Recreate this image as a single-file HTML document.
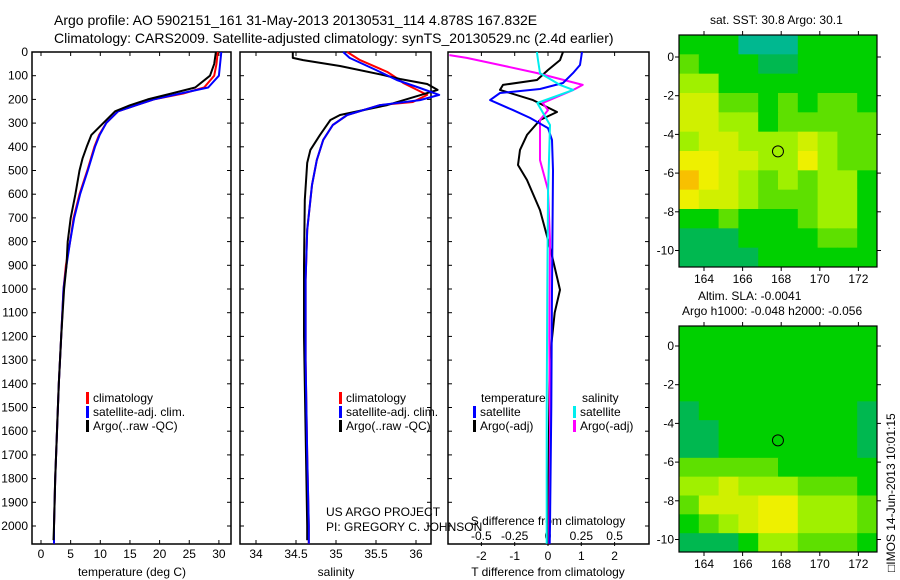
<!DOCTYPE html>
<html><head><meta charset="utf-8"><style>
body{margin:0;background:#fff}
svg{display:block;font-family:"Liberation Sans",sans-serif}
text{fill:#000}
</style></head><body>
<svg id="s" width="900" height="580" viewBox="0 0 900 580">
<text x="54" y="25" font-size="14">Argo profile: AO 5902151_161 31-May-2013 20130531_114 4.878S 167.832E</text>
<text x="54" y="43" font-size="14">Climatology: CARS2009. Satellite-adjusted climatology: synTS_20130529.nc (2.4d earlier)</text>
<g id="g"></g>
<text x="326" y="516" font-size="12">US ARGO PROJECT</text>
<text x="326" y="531" font-size="12">PI: GREGORY C. JOHNSON</text>
<text x="710" y="24" font-size="12">sat. SST: 30.8 Argo: 30.1</text>
<text x="698" y="300" font-size="12">Altim. SLA: -0.0041</text>
<text x="682" y="315" font-size="12">Argo h1000: -0.048 h2000: -0.056</text>
<text transform="translate(895,572) rotate(-90)" font-size="12">□IMOS 14-Jun-2013 10:01:15</text>
</svg>
<script>
// ---- data ----
const tArgoD=[0,50,100,150,175,200,225,250,300,350,400,450,500,600,700,800,900,1000,1200,1400,1600,1800,2000,2060];
const tArgoV=[29.5,29.2,28.5,26,22,18,15,12.5,10.5,8.5,7.7,7,6.5,5.8,5,4.5,4.3,3.9,3.4,3,2.7,2.4,2.2,2.1];
const tClimD=[0,50,100,150,175,200,225,250,300,350,400,500,600,700,800,900,1000,1200,1400,1600,1800,2000,2075];
const tClimV=[29.8,29.6,29.2,27.5,24,19,16,13,11,9.8,9,7.8,6.5,5.5,4.9,4.2,3.8,3.4,3,2.7,2.4,2.2,2.2];
const tSatV=[30.4,30.2,30,28.2,23.5,19,16,13,11,9.9,9.1,7.9,6.6,5.6,4.9,4.3,3.8,3.4,3,2.7,2.4,2.2,2.2];
const sArgoD=[0,25,34,59,97,114,135,160,224,266,287,350,413,468,624,900,1200,1600,2000,2060];
const sArgoV=[34.46,34.46,34.59,35.05,35.59,35.8,36.14,36.27,35.64,35.05,34.93,34.8,34.68,34.64,34.61,34.6,34.6,34.62,34.64,34.64];
const sClimD=[0,34,84,110,131,181,211,224,266,308,371,456,561,751,962,1300,1700,2000,2075];
const sClimV=[35.14,35.3,35.64,35.76,35.84,36.14,35.96,35.55,35.14,34.96,34.84,34.76,34.7,34.64,34.62,34.62,34.64,34.66,34.66];
const sSatD=[0,25,76,118,152,181,203,224,266,308,371,456,561,751,962,1300,1700,2000,2075];
const sSatV=[35.09,35.17,35.5,35.76,36.05,36.29,36.05,35.55,35.14,34.96,34.84,34.76,34.7,34.64,34.62,34.62,34.64,34.66,34.66];
const dTsatD=[0,55,89,131,156,173,203,245,278,321,371,500,1000,1500,2000,2075];
const dTsatV=[1.02,0.96,0.75,0.45,-0.24,-1.44,-1.74,-1.05,-0.54,0,0.12,0.15,0.12,0.1,0.06,0.05];
const dTargoD=[0,34,76,118,139,160,203,253,287,350,413,477,540,667,793,878,1004,1100,1300,2000,2075];
const dTargoV=[0.45,0.36,0,-0.33,-1.35,-1.44,-0.45,0.27,-0.24,-0.63,-0.84,-0.9,-0.63,-0.24,0,0.15,0.36,0.2,0.05,0,0];
const dSsatD=[0,34,89,139,160,215,308,600,1000,1500,2000,2075];
const dSsatV=[-0.083,-0.075,-0.06,0.09,0.19,-0.08,0.015,0,-0.005,-0.01,-0.01,-0.01];
const dSargoD=[13,25,55,89,139,160,215,245,287,456,582,793,1200,1600,2000,2075];
const dSargoV=[-0.74,-0.61,-0.36,-0.08,0.26,0.19,-0.04,0,-0.06,-0.06,0,0.015,0.01,0.015,0.01,0.01];
const depthTicks=[0,100,200,300,400,500,600,700,800,900,1000,1100,1200,1300,1400,1500,1600,1700,1800,1900,2000];
const tTicks=[0,5,10,15,20,25,30];
const sTicks=[34,34.5,35,35.5,36];
const sTickLabels=["34","34.5","35","35.5","36"];
const dtTicks=[-2,-1,0,1,2];
const dsTicks=[-0.5,-0.25,0,0.25,0.5];
const dsTickLabels=["-0.5","-0.25","0","0.25","0.5"];
const lonTicks=[164,166,168,170,172];
const latTicks=[0,-2,-4,-6,-8,-10];
// map grids: rows north->south, cols west->east, colour index 1..8
const sstGrid=["3331113333","4333223333","5533333333","6644343443","6655344444","5665556544","7766557544","8765454553","7665444553","3343334553","2223333443","2222333333"];
const slaGrid=["3333333333","3333333333","3333333333","3333333333","2333333332","2233333332","2233333332","4444433333","5565554443","4666775554","3456775554","2223554443"];
const palette=["#00b890","#00b850","#00d000","#5ee000","#a0f000","#d0f000","#eef000","#f8c000"];
const argoLon=167.832, argoLat=-4.878;

// ---- helpers ----
const NS="http://www.w3.org/2000/svg";
const G=document.getElementById('g');
function mk(tag,attrs,txt){const e=document.createElementNS(NS,tag);for(const k in attrs)e.setAttribute(k,attrs[k]);if(txt!==undefined)e.textContent=txt;G.appendChild(e);return e;}
const yD=d=>52+d*0.237;
function panel(x0,x1,name){const r=mk('rect',{x:x0,y:52,width:x1-x0,height:492,fill:'none',stroke:'#000','stroke-width':1.5});

}
function line(ds,vs,sx,color,name,w){const pts=ds.map((d,i)=>sx(vs[i]).toFixed(1)+','+yD(d).toFixed(1)).join(' ');
const p=mk('polyline',{points:pts,fill:'none',stroke:color,'stroke-width':w||2,'stroke-linejoin':'round'});

}
const sxT=v=>41+v*5.93, sxS=v=>256+(v-34)*80, sxDT=v=>548+v*33.3, sxDS=v=>548+v*133.3;

// panels
panel(32,231,'temperature-panel');panel(240,431,'salinity-panel');panel(448,649,'difference-panel');
depthTicks.forEach(d=>{const t=mk('text',{x:28,y:yD(d)+4,'font-size':12,'text-anchor':'end'},String(d));


[[32,36],[227,231],[240,244],[427,431],[448,452],[645,649]].forEach(a=>mk('line',{x1:a[0],x2:a[1],y1:yD(d),y2:yD(d),stroke:'#000'}));});
tTicks.forEach(v=>{const t=mk('text',{x:sxT(v),y:558,'font-size':12,'text-anchor':'middle'},String(v));


mk('line',{x1:sxT(v),x2:sxT(v),y1:52,y2:56,stroke:'#000'});mk('line',{x1:sxT(v),x2:sxT(v),y1:540,y2:544,stroke:'#000'});});
sTicks.forEach((v,i)=>{const t=mk('text',{x:sxS(v),y:558,'font-size':12,'text-anchor':'middle'},sTickLabels[i]);


mk('line',{x1:sxS(v),x2:sxS(v),y1:52,y2:56,stroke:'#000'});mk('line',{x1:sxS(v),x2:sxS(v),y1:540,y2:544,stroke:'#000'});});
dtTicks.forEach(v=>{const t=mk('text',{x:sxDT(v),y:560,'font-size':12,'text-anchor':'middle'},String(v));


mk('line',{x1:sxDT(v),x2:sxDT(v),y1:52,y2:56,stroke:'#000'});mk('line',{x1:sxDT(v),x2:sxDT(v),y1:542,y2:546,stroke:'#000'});});
dsTicks.forEach((v,i)=>{const t=mk('text',{x:sxDS(v),y:540,'font-size':12,'text-anchor':'middle'},dsTickLabels[i]);

});
[['temperature (deg C)',132,576,'temperature-axis-title'],['salinity',336,576,'salinity-axis-title'],['T difference from climatology',548,576,'t-diff-axis-title'],['S difference from climatology',548,525,'s-diff-axis-title']].forEach(a=>{
const t=mk('text',{x:a[1],y:a[2],'font-size':12,'text-anchor':'middle'},a[0]);

});

// series
line(tClimD,tClimV,sxT,'#f00','temperature-climatology-line');
line(tClimD,tSatV,sxT,'#00f','temperature-satellite-line');
line(tArgoD,tArgoV,sxT,'#000','temperature-argo-line');
line(sClimD,sClimV,sxS,'#f00','salinity-climatology-line');
line(sArgoD,sArgoV,sxS,'#000','salinity-argo-line');
line(sSatD,sSatV,sxS,'#00f','salinity-satellite-line');
line(dTargoD,dTargoV,sxDT,'#000','t-diff-argo-line');
line(dSargoD,dSargoV,sxDS,'#f0f','s-diff-argo-line');
line(dTsatD,dTsatV,sxDT,'#00f','t-diff-satellite-line');
line(dSsatD,dSsatV,sxDS,'#0ee','s-diff-satellite-line');

// legends
function leg(x,y,c,label,name){mk('rect',{x:x,y:y-10,width:3,height:12,fill:c});
const t=mk('text',{x:x+7,y:y,'font-size':12},label);

}
[[86,'climatology','#f00'],[86,'satellite-adj. clim.','#00f'],[86,'Argo(..raw -QC)','#000']].forEach((a,i)=>leg(a[0],402+i*14,a[2],a[1],'temp-legend-entry'));
[[339,'climatology','#f00'],[339,'satellite-adj. clim.','#00f'],[339,'Argo(..raw -QC)','#000']].forEach((a,i)=>leg(a[0],402+i*14,a[2],a[1],'sal-legend-entry'));
mk('text',{x:481,y:402,'font-size':12},'temperature');mk('text',{x:582,y:402,'font-size':12},'salinity');
leg(473,416,'#00f','satellite','diff-legend-entry');leg(473,430,'#000','Argo(-adj)','diff-legend-entry');
leg(573,416,'#0ee','satellite','diff-legend-entry');leg(573,430,'#f0f','Argo(-adj)','diff-legend-entry');

// maps
function map(grid,x0,x1,y0,y1,lat0y,name){
const lx=lon=>704+(lon-164)*19.3, ly=lat=>lat0y-lat*19.35;
const rows=grid.length, cols=grid[0].length, cw=(x1-x0)/cols, ch=(y1-y0)/rows;
grid.forEach((row,r)=>row.split('').forEach((c,k)=>{const e=mk('rect',{x:(x0+k*cw).toFixed(2),y:(y0+r*ch).toFixed(2),width:(cw+0.5).toFixed(2),height:(ch+0.5).toFixed(2),fill:palette[+c-1]});

}));
const f=mk('rect',{x:x0,y:y0,width:x1-x0,height:y1-y0,fill:'none',stroke:'#000','stroke-width':1.2});


lonTicks.forEach(v=>{const t=mk('text',{x:lx(v),y:y1+16,'font-size':12,'text-anchor':'middle'},String(v));


mk('line',{x1:lx(v),x2:lx(v),y1:y0-4,y2:y0,stroke:'#000'});mk('line',{x1:lx(v),x2:lx(v),y1:y1,y2:y1+4,stroke:'#000'});});
latTicks.forEach(v=>{const t=mk('text',{x:x0-5,y:ly(v)+4,'font-size':12,'text-anchor':'end'},String(v));


mk('line',{x1:x0-4,x2:x0,y1:ly(v),y2:ly(v),stroke:'#000'});mk('line',{x1:x1,x2:x1+4,y1:ly(v),y2:ly(v),stroke:'#000'});});
const c=mk('circle',{cx:lx(argoLon),cy:ly(argoLat),r:5.5,fill:'none',stroke:'#000','stroke-width':1});

}
map(sstGrid,679,877,35,267,57,'sst-map');
map(slaGrid,679,877,326,552,346,'sla-map');
</script>
</body></html>
